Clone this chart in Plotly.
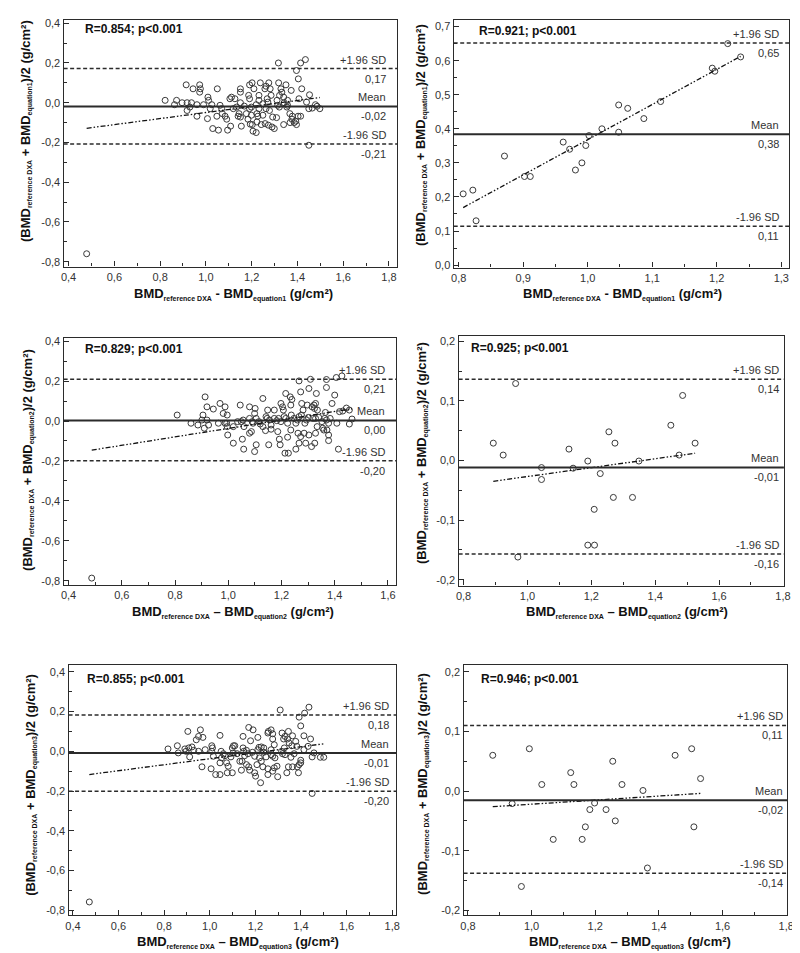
import plotly.graph_objects as go

# ------------------------------------------------------------------ data
# Panel 1 (equation1, full group)
p1_x = [1.317, 1.414, 1.435, 1.396, 1.404, 0.914, 0.973, 0.944, 0.976, 0.973, 1.050, 1.151, 1.191, 1.202,
        1.238, 1.275, 1.263, 1.318, 1.350, 1.328, 1.332, 1.210, 1.258, 1.281, 1.373, 1.419, 1.151, 1.112,
        1.127, 1.009, 1.012, 1.105, 1.187, 1.232, 1.232, 1.285, 1.268, 1.311, 1.322, 1.340, 1.357, 1.453,
        1.407, 1.440, 1.191, 0.822, 0.872, 0.896, 0.918, 0.937, 0.863, 0.961, 0.990, 1.026, 1.151, 1.168,
        1.199, 1.220, 1.249, 1.271, 1.314, 1.342, 1.357, 1.479, 0.930, 0.918, 1.019, 1.062, 1.069, 1.120,
        1.134, 1.191, 1.232, 1.263, 1.321, 1.354, 1.450, 1.465, 1.498, 1.486, 0.961, 1.007, 1.048, 1.072,
        1.084, 1.091, 1.145, 1.141, 1.151, 1.177, 1.199, 1.223, 1.227, 1.249, 1.278, 1.292, 1.309, 1.367,
        1.378, 1.403, 1.376, 1.030, 1.055, 1.095, 1.108, 1.155, 1.184, 1.194, 1.203, 1.206, 1.220, 1.223,
        1.242, 1.259, 1.273, 1.289, 1.299, 1.340, 1.368, 1.386, 1.396, 1.393, 1.414, 1.450, 0.479]
p1_y = [0.200, 0.200, 0.217, 0.162, 0.120, 0.090, 0.090, 0.070, 0.070, 0.053, 0.070, 0.070, 0.090, 0.100,
        0.100, 0.100, 0.083, 0.100, 0.090, 0.070, 0.053, 0.070, 0.070, 0.070, 0.062, 0.070, 0.053, 0.028,
        0.020, 0.028, 0.012, 0.020, 0.037, 0.037, 0.012, 0.037, 0.020, 0.012, 0.037, 0.028, 0.012, 0.040,
        0.020, 0.003, 0.020, 0.012, 0.012, 0.000, 0.000, 0.000, -0.010, -0.010, -0.010, -0.010, 0.000, -0.017,
        -0.022, -0.010, -0.005, 0.003, -0.013, 0.000, -0.013, -0.010, -0.022, -0.039, -0.030, -0.013, -0.030, -0.030,
        -0.022, -0.030, -0.030, -0.030, -0.022, -0.022, -0.030, -0.027, -0.030, -0.018, -0.068, -0.080, -0.068, -0.055,
        -0.068, -0.083, -0.055, -0.068, -0.072, -0.055, -0.063, -0.055, -0.068, -0.063, -0.039, -0.072, -0.075, -0.055,
        -0.068, -0.068, -0.083, -0.130, -0.138, -0.138, -0.118, -0.118, -0.083, -0.108, -0.110, -0.143, -0.150, -0.097,
        -0.110, -0.105, -0.113, -0.122, -0.130, -0.110, -0.100, -0.100, -0.110, -0.093, -0.068, -0.214, -0.760]

# Panel 2 (equation1, subgroup)
p2_x = [0.807, 0.822, 0.827, 0.871, 0.902, 0.911, 0.962, 0.972, 0.981, 0.991, 0.997, 1.002, 1.022, 1.048,
        1.048, 1.062, 1.087, 1.113, 1.193, 1.197, 1.217, 1.237]
p2_y = [0.209, 0.220, 0.130, 0.320, 0.260, 0.260, 0.361, 0.340, 0.279, 0.300, 0.351, 0.380, 0.400, 0.470,
        0.390, 0.460, 0.430, 0.480, 0.578, 0.569, 0.650, 0.611]

# Panel 3 (equation2, full group)
p3_x = [0.808, 0.913, 0.920, 0.944, 0.969, 0.988, 0.981, 0.996, 1.045, 1.080, 1.101, 1.130, 1.148, 1.142,
        1.173, 1.198, 1.204, 1.207, 1.216, 1.233, 1.239, 1.235, 1.266, 1.272, 1.276, 1.281, 1.297, 1.303,
        1.309, 1.315, 1.322, 1.328, 1.324, 1.331, 1.335, 1.369, 1.369, 1.400, 1.390, 1.406, 1.427, 1.365,
        0.860, 0.886, 0.905, 0.901, 0.920, 0.926, 0.910, 0.963, 0.988, 0.994, 0.996, 1.019, 1.035, 1.049,
        1.056, 1.059, 1.080, 1.090, 1.093, 1.099, 1.105, 1.115, 1.120, 1.130, 1.146, 1.155, 1.161, 1.173,
        1.182, 1.189, 1.198, 1.210, 1.216, 1.223, 1.237, 1.247, 1.254, 1.260, 1.266, 1.275, 1.288, 1.294,
        1.301, 1.318, 1.328, 1.340, 1.352, 1.362, 1.369, 1.377, 1.383, 1.418, 1.408, 0.998, 1.019, 1.053,
        1.058, 1.080, 1.087, 1.099, 1.105, 1.140, 1.152, 1.161, 1.186, 1.192, 1.195, 1.213, 1.226, 1.223,
        1.235, 1.254, 1.262, 1.266, 1.272, 1.285, 1.291, 1.303, 1.313, 1.325, 1.328, 1.334, 1.355, 1.359,
        1.371, 1.377, 1.377, 1.414, 1.444, 1.455, 1.465, 1.455, 1.430, 0.487]
p3_y = [0.030, 0.121, 0.071, 0.060, 0.088, 0.071, 0.038, 0.030, 0.080, 0.071, 0.063, 0.113, 0.055, 0.022,
        0.055, 0.088, 0.071, 0.055, 0.138, 0.121, 0.108, 0.080, 0.201, 0.146, 0.088, 0.055, 0.080, 0.163,
        0.209, 0.071, 0.080, 0.088, 0.063, 0.138, 0.055, 0.208, 0.168, 0.130, 0.088, 0.218, 0.226, 0.043,
        -0.011, -0.020, 0.030, 0.005, 0.005, -0.020, -0.036, -0.011, -0.011, -0.011, -0.028, -0.028, -0.003, -0.003,
        0.005, -0.028, 0.013, -0.003, -0.011, 0.038, 0.013, -0.003, -0.015, -0.028, 0.013, 0.005, -0.020, 0.013,
        0.002, 0.013, -0.003, 0.022, 0.013, -0.011, 0.030, 0.013, -0.011, 0.005, 0.022, 0.030, -0.011, 0.005,
        0.018, 0.013, 0.013, 0.018, -0.003, 0.013, 0.005, -0.011, 0.013, 0.047, -0.011, -0.070, -0.111, -0.091,
        -0.141, -0.061, -0.053, -0.153, -0.119, -0.048, -0.119, -0.041, -0.053, -0.091, -0.119, -0.161, -0.161, -0.081,
        -0.045, -0.141, -0.061, -0.111, -0.078, -0.061, -0.111, -0.070, -0.128, -0.111, -0.061, -0.028, -0.036, -0.045,
        -0.045, -0.070, -0.098, -0.141, 0.065, 0.055, 0.010, -0.015, 0.050, -0.787]

# Panel 4 (equation2, subgroup)
p4_x = [0.893, 0.924, 0.963, 0.970, 1.044, 1.044, 1.130, 1.143, 1.189, 1.189, 1.210, 1.209, 1.228, 1.255,
        1.274, 1.269, 1.329, 1.349, 1.449, 1.475, 1.486, 1.525]
p4_y = [0.029, 0.009, 0.129, -0.162, -0.012, -0.032, 0.019, -0.013, -0.001, -0.142, -0.142, -0.082, -0.022, 0.048,
        0.029, -0.062, -0.062, -0.001, 0.059, 0.009, 0.109, 0.029]

# Panel 5 (equation3, full group)
p5_x = [1.309, 1.435, 1.416, 1.392, 1.399, 1.413, 0.904, 0.959, 0.951, 0.970, 0.941, 1.045, 1.171, 1.190,
        1.146, 1.179, 1.211, 1.257, 1.269, 1.255, 1.276, 1.276, 1.317, 1.345, 1.363, 1.324, 1.341, 1.330,
        1.442, 1.377, 1.348, 0.858, 0.891, 0.908, 0.922, 0.930, 1.009, 1.012, 1.104, 1.110, 1.099, 1.146,
        1.161, 1.216, 1.226, 1.237, 1.211, 1.283, 1.269, 1.315, 1.327, 1.360, 1.382, 1.413, 1.431, 0.817,
        0.862, 0.896, 0.951, 0.980, 1.009, 1.050, 1.060, 1.103, 1.120, 1.149, 1.168, 1.187, 1.237, 1.269,
        1.319, 1.330, 1.370, 1.457, 1.485, 1.500, 0.912, 1.016, 1.052, 1.067, 1.093, 1.153, 1.197, 1.218,
        1.247, 1.276, 1.286, 1.356, 1.399, 1.449, 0.966, 1.006, 1.045, 1.074, 1.081, 1.132, 1.142, 1.161,
        1.171, 1.207, 1.226, 1.233, 1.255, 1.283, 1.295, 1.345, 1.363, 1.384, 1.392, 1.399, 1.026, 1.045,
        1.077, 1.099, 1.139, 1.175, 1.197, 1.201, 1.223, 1.255, 1.276, 1.298, 1.338, 1.389, 1.449, 0.472]
p5_y = [0.208, 0.222, 0.192, 0.172, 0.128, 0.078, 0.100, 0.108, 0.075, 0.070, 0.058, 0.080, 0.120, 0.108,
        0.075, 0.053, 0.070, 0.100, 0.108, 0.092, 0.088, 0.062, 0.092, 0.100, 0.078, 0.062, 0.062, 0.075,
        0.062, 0.050, 0.042, 0.028, 0.012, 0.017, 0.022, 0.005, 0.028, 0.017, 0.028, 0.028, 0.017, 0.017,
        0.005, 0.020, 0.022, 0.017, 0.008, 0.033, 0.008, 0.000, 0.017, 0.028, 0.025, 0.008, 0.025, 0.012,
        -0.008, 0.000, 0.000, 0.008, 0.000, 0.000, -0.012, -0.008, -0.012, 0.000, -0.012, -0.005, -0.005, -0.017,
        -0.012, -0.017, -0.012, -0.008, -0.030, -0.030, -0.028, -0.025, -0.033, -0.022, -0.028, -0.022, -0.025, -0.033,
        -0.028, -0.025, -0.033, -0.030, -0.045, -0.028, -0.078, -0.088, -0.058, -0.058, -0.075, -0.050, -0.050, -0.067,
        -0.078, -0.067, -0.050, -0.078, -0.088, -0.083, -0.075, -0.078, -0.078, -0.078, -0.067, -0.058, -0.117, -0.117,
        -0.108, -0.108, -0.095, -0.095, -0.108, -0.125, -0.158, -0.117, -0.100, -0.128, -0.108, -0.108, -0.212, -0.758]

# Panel 6 (equation3, subgroup)
p6_x = [0.878, 0.939, 0.993, 0.968, 1.032, 1.068, 1.123, 1.133, 1.159, 1.169, 1.183, 1.198, 1.234, 1.255,
        1.263, 1.284, 1.350, 1.364, 1.451, 1.503, 1.510, 1.531]
p6_y = [0.060, -0.021, 0.071, -0.160, 0.011, -0.081, 0.031, 0.011, -0.081, -0.060, -0.031, -0.020, -0.031, 0.050,
        -0.050, 0.011, 0.001, -0.129, 0.060, 0.071, -0.060, 0.021]

# Bland-Altman statistics: upper LoA, mean, lower LoA
upper_loa = [0.172, 0.652, 0.209, 0.136, 0.183, 0.110]
mean_diff = [-0.019, 0.384, 0.003, -0.0117, -0.008, -0.0155]
lower_loa = [-0.208, 0.114, -0.199, -0.157, -0.201, -0.138]
# regression line (slope, intercept) and correlation text
reg_slope = [0.152, 1.032, 0.212, 0.0745, 0.1506, 0.0341]
reg_intercept = [-0.2014, -0.664, -0.249, -0.1015, -0.188, -0.0561]
r_text = ["R=0.854; p<0.001", "R=0.921; p<0.001", "R=0.829; p<0.001",
          "R=0.925; p<0.001", "R=0.855; p<0.001", "R=0.946; p<0.001"]
equation_names = ["equation1", "equation1", "equation2", "equation2", "equation3", "equation3"]

# tick values
xticks_wide = [0.4, 0.6, 0.8, 1.0, 1.2, 1.4, 1.6, 1.8]
xticks_p2 = [0.8, 0.9, 1.0, 1.1, 1.2, 1.3]
xticks_p3 = [0.4, 0.6, 0.8, 1.0, 1.2, 1.4, 1.6]
xticks_narrow = [0.8, 1.0, 1.2, 1.4, 1.6, 1.8]
yticks_wide = [-0.8, -0.6, -0.4, -0.2, 0.0, 0.2, 0.4]
yticks_p2 = [0.0, 0.1, 0.2, 0.3, 0.4, 0.5, 0.6, 0.7]
yticks_narrow = [-0.2, -0.1, 0.0, 0.1, 0.2]

xs = [p1_x, p2_x, p3_x, p4_x, p5_x, p6_x]
ys = [p1_y, p2_y, p3_y, p4_y, p5_y, p6_y]
xticks = [xticks_wide, xticks_p2, xticks_p3, xticks_narrow, xticks_wide, xticks_narrow]
yticks = [yticks_wide, yticks_p2, yticks_wide, yticks_narrow, yticks_wide, yticks_narrow]

# ------------------------------------------------------------------ layout constants (pixels)
W, H = 800, 953
frames = [(53.3, 391, 9.3, 257.3), (448.3, 788, 9, 258.3), (53.3, 390, 329.3, 577.7),
          (453.3, 782.7, 326.7, 578.3), (58.3, 390, 658.3, 910), (458.3, 786, 658.3, 910)]
xranges = [(0.3784, 1.8358), (0.7923, 1.3122), (0.3814, 1.6308), (0.7845, 1.8031), (0.381, 1.8173), (0.7863, 1.8031)]
yranges = [(-0.825, 0.415), (-0.0076, 0.7195), (-0.8219, 0.4149), (-0.21, 0.2093), (-0.825, 0.4335), (-0.2083, 0.2112)]
xminor = [0.1, 0.05, 0.1, 0.1, 0.1, 0.1]
yminor = [0.1, 0.05, 0.1, 0.05, 0.1, 0.05]
ytitle_pos = [(15, 121), (415, 125), (17, 452), (416, 445), (20, 779), (417, 778)]
xtitle_pos = [(225, 285), (619, 285), (225, 605), (624, 605), (230, 937), (627, 937)]
r_pos = [(72.7, 18.3), (471.7, 20), (72.7, 340), (464.3, 339), (75, 672.3), (474, 672.3)]
lab_right = [381.7, 780, 381, 780, 385, 783.3]
dash_sep = [" - ", " - ", " – ", " – ", " – ", " – "]

FONT = "Liberation Sans, Arial, sans-serif"
INK = "#2b2b2b"


def fmt1(v):
    s = f"{v:.1f}".replace(".", ",")
    return "0,0" if s == "-0,0" else s


def fmt2(v):
    s = f"{v:.2f}".replace(".", ",")
    return "0,00" if s == "-0,00" else s


def sub(txt):
    return f'<sub><span style="font-size:7px">{txt}</span></sub>'


fig = go.Figure()
annotations = []
shapes = []
layout_axes = {}

for i in range(6):
    n = i + 1
    xa = "x" if n == 1 else f"x{n}"
    ya = "y" if n == 1 else f"y{n}"
    l, r, t, b = frames[i]

    fig.add_trace(go.Scatter(
        x=xs[i], y=ys[i], mode="markers", xaxis=xa, yaxis=ya, showlegend=False,
        marker=dict(symbol="circle-open", size=6, color="#3a3a3a", line=dict(width=1, color="#3a3a3a"))))

    x0, x1 = min(xs[i]), max(xs[i])
    fig.add_trace(go.Scatter(
        x=[x0, x1], y=[reg_intercept[i] + reg_slope[i] * x0, reg_intercept[i] + reg_slope[i] * x1],
        mode="lines", xaxis=xa, yaxis=ya, showlegend=False,
        line=dict(color="#111", width=1.3, dash="5px,2px,1.5px,2px,1.5px,2px")))

    common = dict(showline=True, linecolor=INK, linewidth=1.4, mirror=True, ticks="inside",
                  ticklen=5, tickwidth=1.2, tickcolor=INK, showgrid=False, zeroline=False,
                  tickfont=dict(family=FONT, size=11, color="#333"))
    layout_axes["xaxis" if n == 1 else f"xaxis{n}"] = dict(
        common, domain=[l / W, r / W], anchor=ya, range=list(xranges[i]),
        tickmode="array", tickvals=xticks[i], ticktext=[fmt1(v) for v in xticks[i]],
        minor=dict(ticks="inside", ticklen=3, tickwidth=1, tickcolor=INK, tick0=0, dtick=xminor[i]))
    layout_axes["yaxis" if n == 1 else f"yaxis{n}"] = dict(
        common, domain=[1 - b / H, 1 - t / H], anchor=xa, range=list(yranges[i]),
        tickmode="array", tickvals=yticks[i], ticktext=[fmt1(v) for v in yticks[i]],
        minor=dict(ticks="inside", ticklen=3, tickwidth=1, tickcolor=INK, tick0=0, dtick=yminor[i]))

    # limits of agreement and mean
    for val, dash, w in ((upper_loa[i], "4px,2.5px", 1.5), (lower_loa[i], "4px,2.5px", 1.5),
                         (mean_diff[i], "solid", 2)):
        shapes.append(dict(type="line", xref=f"{xa} domain", yref=ya, x0=0, x1=1, y0=val, y1=val,
                           line=dict(color=INK, width=w, dash=dash)))

    lx = lab_right[i] / W
    for txt, val in (("+1.96 SD", upper_loa[i]), ("Mean", mean_diff[i]), ("-1.96 SD", lower_loa[i])):
        annotations.append(dict(text=txt, xref="paper", yref=ya, x=lx, y=val, xanchor="right",
                                yanchor="bottom", yshift=1, showarrow=False,
                                font=dict(family=FONT, size=11, color="#333")))
        annotations.append(dict(text=fmt2(val), xref="paper", yref=ya, x=lx, y=val, xanchor="right",
                                yanchor="top", yshift=-2, showarrow=False,
                                font=dict(family=FONT, size=11, color="#333")))

    annotations.append(dict(text=f"<b>{r_text[i]}</b>", xref="paper", yref="paper",
                            x=r_pos[i][0] / W, y=1 - r_pos[i][1] / H, xanchor="left", yanchor="middle",
                            showarrow=False, font=dict(family=FONT, size=12, color="#111")))

    eq = equation_names[i]
    annotations.append(dict(
        text=f"<b>BMD{sub('reference DXA')}{dash_sep[i]}BMD{sub(eq)} (g/cm²)</b>",
        xref="paper", yref="paper", x=xtitle_pos[i][0] / W, y=1 - xtitle_pos[i][1] / H,
        xanchor="center", yanchor="middle", showarrow=False,
        font=dict(family=FONT, size=13, color="#111")))
    annotations.append(dict(
        text=f"<b>(BMD{sub('reference DXA')} + BMD{sub(eq)})/2 (g/cm²)</b>",
        xref="paper", yref="paper", x=ytitle_pos[i][0] / W, y=1 - ytitle_pos[i][1] / H,
        xanchor="center", yanchor="middle", textangle=-90, showarrow=False,
        font=dict(family=FONT, size=13, color="#111")))

fig.update_layout(
    width=W, height=H, margin=dict(l=0, r=0, t=0, b=0),
    paper_bgcolor="white", plot_bgcolor="white",
    font=dict(family=FONT, size=11, color="#333"),
    annotations=annotations, shapes=shapes, showlegend=False,
    **layout_axes)

fig.write_html("out.html")
